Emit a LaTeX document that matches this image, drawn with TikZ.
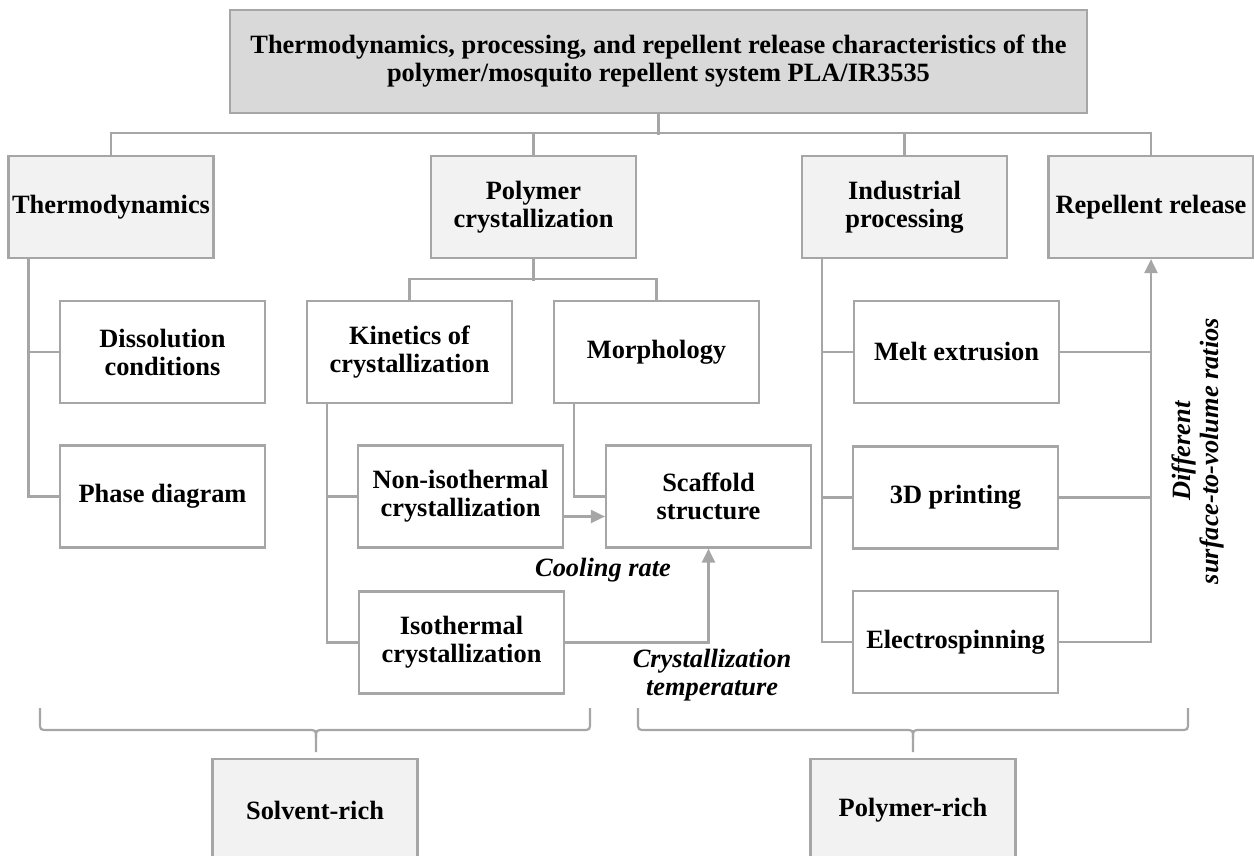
\documentclass[tikz,border=0pt]{standalone}
\usepackage{fontspec}
\setmainfont{Liberation Serif}
\usetikzlibrary{arrows.meta,calc,positioning}
\definecolor{linegray}{HTML}{A6A6A6}
\definecolor{topfill}{HTML}{D9D9D9}
\definecolor{headfill}{HTML}{F2F2F2}
\tikzset{
  box/.style={draw=linegray,line width=1.1pt,align=center,inner sep=0pt,
    minimum width=102.5pt,minimum height=51pt,
    font=\fontsize{13.2}{14}\selectfont\bfseries},
  headbox/.style={box,fill=headfill},
  subbox/.style={box,fill=white},
  link/.style={draw=linegray,line width=1.1pt},
  arrow/.style={link,-{Triangle[length=7pt,width=6.5pt]}},
  note/.style={font=\fontsize{13.2}{14}\selectfont\bfseries\itshape,align=center,inner sep=0pt}
}
\begin{document}
\begin{tikzpicture}[x=0.5pt,y=-0.5pt]
\useasboundingbox (0,0) rectangle (1254,856);
\clip (0,0) rectangle (1254,856);
%title
\node[box,fill=topfill,minimum width=428.5pt,minimum height=51.5pt] (title) at (658.5,61.5)
{Thermodynamics, processing, and repellent release characteristics of the\\
polymer/mosquito repellent system PLA/IR3535};
%main topics
\node[headbox] (thermo) at (111,207) {Thermodynamics};
\node[headbox] (polycr) at (533.5,207) {Polymer\\crystallization};
\node[headbox] (indus) at (904.5,207) {Industrial\\processing};
\node[headbox] (repel) at (1151,207) {Repellent release};
%sub topics
\node[subbox] (dissol) at (162.5,352) {Dissolution\\conditions};
\node[subbox] (phase) at (162.5,496.5) {Phase diagram};
\node[subbox] (kinet) at (409.5,352) {Kinetics of\\crystallization};
\node[subbox] (morph) at (656.5,352) {Morphology};
\node[subbox] (nonis) at (460.5,496.5) {Non-isothermal\\crystallization};
\node[subbox] (scaff) at (708.5,496.5) {Scaffold\\structure};
\node[subbox] (isoth) at (461.5,642.5) {Isothermal\\crystallization};
\node[subbox] (melt) at (956.5,352) {Melt extrusion};
\node[subbox] (print) at (955.5,497.5) {3D printing};
\node[subbox] (elect) at (955.5,642) {Electrospinning};
%phases
\node[headbox] (solv) at (315,810) {Solvent-rich};
\node[headbox] (polyr) at (913,810) {Polymer-rich};
%tree lines
\draw[link] (title.south) -- ++(0,21);
\draw[link] (thermo.north) -- ++(0,-22) -| (repel.north);
\draw[link] (polycr.north) -- ++(0,-22);
\draw[link] (indus.north) -- ++(0,-22);
\draw[link] (polycr.south) -- ++(0,22);
\draw[link] (kinet.north) -- ++(0,-21) -| (morph.north);
\draw[link] ($(thermo.south west)+(21,0)$) |- (dissol.west);
\draw[link] ($(thermo.south west)+(21,0)$) |- (phase.west);
\draw[link] ($(kinet.south west)+(21,0)$) |- (nonis.west);
\draw[link] ($(kinet.south west)+(21,0)$) |- (isoth.west);
\draw[link] ($(morph.south west)+(21,0)$) |- (scaff.west);
\draw[link] ($(indus.south west)+(21,0)$) |- (melt.west);
\draw[link] ($(indus.south west)+(21,0)$) |- (print.west);
\draw[link] ($(indus.south west)+(21,0)$) |- (elect.west);
%crystallization to scaffold
\draw[arrow] ($(nonis.east)+(0,20)$) -- ($(scaff.west)+(0,20)$);
\draw[arrow] (isoth.east) -| (scaff.south);
%processing to release
\draw[link] (melt.east) -- (melt.east -| repel.south);
\draw[link] (print.east) -- (print.east -| repel.south);
\draw[arrow] (elect.east) -| (repel.south);
%labels
\node[note] (cool) at (603,570) {Cooling rate};
\node[note] (ctemp) at (712,675) {Crystallization\\temperature};
\node[note,rotate=90] (ratio) at (1198,451) {Different\\surface-to-volume ratios};
%braces
\foreach \l/\m/\r in {40/316/590,638/913/1188}{
\draw[link] (\l,708) -- (\l,722) .. controls (\l,730) .. (\l+8,730) -- (\m-8,730)
 .. controls (\m,730) .. (\m,738) -- (\m,752);
\draw[link] (\r,708) -- (\r,722) .. controls (\r,730) .. (\r-8,730) -- (\m+8,730)
 .. controls (\m,730) .. (\m,738);
}
\end{tikzpicture}
\end{document}
